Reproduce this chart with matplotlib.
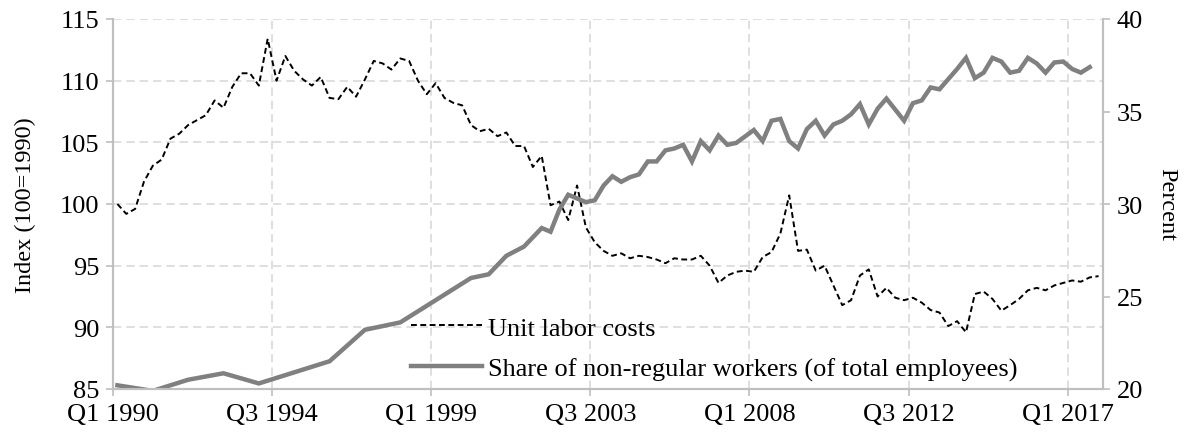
import matplotlib

matplotlib.use("Agg")

import matplotlib.pyplot as plt
import matplotlib.transforms as mtransforms
import numpy as np

# quarterly categories, Q1 1990 .. Q4 2017
quarters = [f"Q{q} {y}" for y in range(1990, 2018) for q in range(1, 5)]

# unit labor costs, index 100 = 1990 (one value per quarter)
unit_labor_costs = [
    100.0, 99.2, 99.6, 101.8, 103.1, 103.6, 105.3, 105.7,
    106.4, 106.8, 107.2, 108.4, 107.8, 109.5, 110.6, 110.6,
    109.6, 113.4, 110.0, 112.0, 110.8, 110.1, 109.6, 110.3,
    108.6, 108.5, 109.5, 108.7, 110.1, 111.6, 111.4, 110.9,
    111.8, 111.6, 110.0, 108.9, 109.8, 108.6, 108.2, 108.0,
    106.4, 105.9, 106.1, 105.5, 105.8, 104.7, 104.7, 103.0,
    103.9, 99.9, 100.2, 98.7, 101.5, 98.1, 96.9, 96.2,
    95.8, 96.0, 95.6, 95.8, 95.7, 95.5, 95.2, 95.6,
    95.5, 95.5, 95.8, 95.0, 93.6, 94.2, 94.5, 94.6,
    94.5, 95.7, 96.1, 97.6, 100.7, 96.2, 96.3, 94.6,
    95.0, 93.4, 91.8, 92.2, 94.2, 94.7, 92.5, 93.2,
    92.4, 92.2, 92.4, 92.0, 91.4, 91.2, 90.1, 90.5,
    89.6, 92.7, 92.9, 92.3, 91.35, 91.8, 92.3, 93.0,
    93.2, 93.0, 93.4, 93.6, 93.8, 93.7, 94.05, 94.15,
]

# share of non-regular workers: survey points (annual early on, quarterly from 2002)
share_pos = [0, 4, 8, 12, 16, 20, 24, 28, 32, 36, 40, 42, 44, 46] + list(range(48, 111))
share_nonregular = [
    20.2, 19.9, 20.5, 20.85, 20.3, 20.9, 21.5, 23.2, 23.6, 24.8, 26.0, 26.2, 27.2, 27.7,
    28.7, 28.5, 29.7, 30.5, 30.3, 30.1, 30.2, 31.0,
    31.5, 31.2, 31.45, 31.6, 32.3, 32.3, 32.9, 33.0,
    33.2, 32.3, 33.4, 32.9, 33.7, 33.2, 33.3, 33.65,
    34.0, 33.4, 34.5, 34.6, 33.4, 33.0, 34.05, 34.5,
    33.7, 34.3, 34.5, 34.85, 35.4, 34.3, 35.15, 35.7,
    35.1, 34.5, 35.45, 35.6, 36.3, 36.2, 36.75, 37.3,
    37.9, 36.8, 37.1, 37.9, 37.7, 37.1, 37.2, 37.9,
    37.6, 37.1, 37.65, 37.7, 37.3, 37.1, 37.4,
]

label_step = 18
grid_color = "#D9D9D9"
spine_color = "#BFBFBF"
tick_size = 19

plt.rcParams["font.family"] = ["Liberation Serif", "DejaVu Serif"]
plt.rcParams["font.size"] = 17.5

fig = plt.figure(figsize=(11.89, 4.39), dpi=100)
ax = fig.add_axes([113 / 1189, 1 - 390 / 439, 990 / 1189, 370 / 439])
ax2 = ax.twinx()

x = np.arange(len(quarters))
ax.plot(x, unit_labor_costs, color="black", lw=1.4, linestyle=(0, (3, 1.8)),
        label="Unit labor costs")
ax2.plot(share_pos, share_nonregular, color="#808080", lw=3.2,
         solid_joinstyle="miter", label="Share of non-regular workers (of total employees)")

tick_idx = list(range(0, len(quarters), label_step))
ax.set_xticks([i - 0.5 for i in tick_idx])
ax.set_xticklabels([quarters[i] for i in tick_idx])
ax.set_xlim(-0.5, len(quarters) - 0.5)

# nudge category labels a little to the right
shift = mtransforms.ScaledTranslation(3 / 100, 0, fig.dpi_scale_trans)
for lbl in ax.get_xticklabels():
    lbl.set_transform(lbl.get_transform() + shift)

ax.set_ylim(85, 115)
ax.set_yticks(np.arange(85, 116, 5))
ax2.set_ylim(20, 40)
ax2.set_yticks(np.arange(20, 41, 5))

ax.grid(True, color=grid_color, lw=1.2, linestyle=(0, (5, 3)))
ax.set_axisbelow(True)

for a in (ax, ax2):
    a.spines["top"].set_visible(False)
    for side in ("left", "right", "bottom"):
        a.spines[side].set_color(spine_color)
        a.spines[side].set_linewidth(1.5)
    a.tick_params(color=spine_color, width=1.2, length=5, pad=5, labelsize=tick_size)

ax.set_ylabel("Index (100=1990)")
ax.yaxis.set_label_coords(-0.078, 0.5)
ax2.set_ylabel("Percent", rotation=270, va="bottom")
ax2.yaxis.set_label_coords(1.054, 0.5)

h1, l1 = ax.get_legend_handles_labels()
h2, l2 = ax2.get_legend_handles_labels()
ax2.legend(h1 + h2, l1 + l2, loc="upper left", bbox_to_anchor=(0.301, 0.197),
           frameon=False, borderpad=0, borderaxespad=0, handlelength=2.7,
           handletextpad=0.23, labelspacing=0.66, fontsize=19)

fig.savefig("out.png", dpi=100)
